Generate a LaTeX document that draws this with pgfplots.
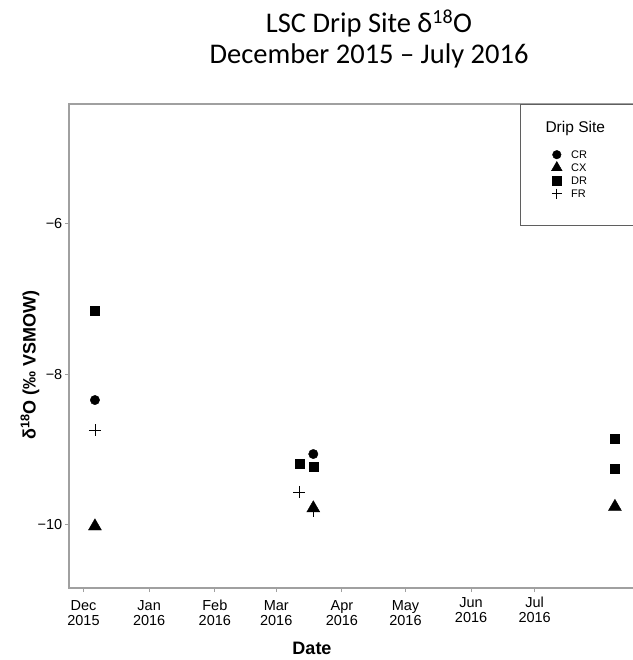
\documentclass[border=0pt]{standalone}
\usepackage{fontspec}
\setmainfont{Liberation Sans}
\newfontfamily\titlefont{Carlito}
\usepackage{pgfplots}
\pgfplotsset{compat=1.18}
\definecolor{axisgray}{RGB}{160,160,160}
\definecolor{boxgray}{RGB}{95,95,95}
% legend image: a single mark centred on the entry's origin
\pgfplotsset{dot legend/.style={legend image code/.code={\draw[##1] plot coordinates {(0pt,0pt)};}}}
% two-line month label with a fixed first-line height
\newcommand\mlab[2]{\rule{0pt}{14pt}#1\\#2}
\newcommand\mlabup[2]{\rule{0pt}{14pt}\raisebox{3pt}{#1}\\\raisebox{3pt}{#2}}

% x = days since 1 Dec 2015
\begin{document}
\begin{tikzpicture}
\begin{axis}[
  at={(0pt,0pt)}, anchor=south west,
  scale only axis, width=576pt, height=484pt,
  xmin=-6.846, xmax=265.1, ymin=-10.853, ymax=-4.4,
  axis line style={axisgray, line width=1.2pt},
  tick style={axisgray, line width=1pt},
  tick align=outside, major tick length=4pt,
  tick pos=left,
  xtick={0,31,62,91,122,152,183,213},
  xticklabels={{\mlab{Dec}{2015}},{\mlab{Jan}{2016}},{\mlab{Feb}{2016}},{\mlab{Mar}{2016}},
               {\mlab{Apr}{2016}},{\mlab{May}{2016}},{\mlabup{Jun}{2016}},{\mlabup{Jul}{2016}}},
  xticklabel style={align=center, anchor=north, inner sep=0pt, yshift=-4pt,
    font=\fontsize{14.5}{15.7}\selectfont},
  ytick={-10,-8,-6},
  yticklabels={−10,−8,−6},
  yticklabel style={anchor=east, inner sep=0pt, xshift=-2.5pt, font=\fontsize{14.5}{16}\selectfont},
  clip=false,
  legend cell align=left,
  legend style={at={(axis description cs:0.8372,0.9091)}, anchor=north west,
    draw=none, fill=none, inner sep=0pt, row sep=0pt, column sep=9pt,
    font=\fontsize{11}{12}\selectfont,
    nodes={inner sep=0pt, text height=10pt, text depth=3pt}},
]
% legend frame
\draw[boxgray, line width=0.8pt] (axis description cs:0.783,1) rectangle (axis description cs:1.2,0.75);
\node[anchor=base west, font=\fontsize{15.5}{17}\selectfont] at (axis description cs:0.8212,0.9401) {Drip Site};

% FR
\addplot[only marks, mark=+, mark size=6pt, mark options={black, line width=0.8pt}, forget plot]
  coordinates {(5.4,-8.747) (101.9,-9.573) (108.5,-9.83)};
% CR
\addplot[only marks, mark=*, mark size=4.7pt, mark options={black, fill=black}, forget plot]
  coordinates {(5.4,-8.347) (108.5,-9.067)};
% CX
\addplot[only marks, mark=triangle*, mark size=7.5pt, mark options={black, fill=black}, forget plot]
  coordinates {(5.4,-10.03) (108.5,-9.789) (250.9,-9.77)};
% DR
\addplot[only marks, mark=square*, mark size=4.5pt, mark options={black, fill=black}, forget plot]
  coordinates {(5.4,-7.156) (101.9,-9.2) (108.5,-9.236) (250.9,-8.857) (250.9,-9.257)};

\addlegendimage{only marks, mark=*, mark size=4.3pt, mark options={black, fill=black}, dot legend}
\addlegendentry{CR}
\addlegendimage{only marks, mark=triangle*, mark size=6.2pt, mark options={black, fill=black}, dot legend}
\addlegendentry{CX}
\addlegendimage{only marks, mark=square*, mark size=4.2pt, mark options={black, fill=black}, dot legend}
\addlegendentry{DR}
\addlegendimage{only marks, mark=+, mark size=5pt, mark options={black, line width=0.7pt}, dot legend}
\addlegendentry{FR}
\end{axis}

% axis titles
\node[anchor=base, font=\bfseries\fontsize{18}{20}\selectfont] at (243pt,-66pt) {Date};
\node[rotate=90, anchor=center, font=\bfseries\fontsize{18}{20}\selectfont] at (-39pt,223pt) {δ\textsuperscript{18}O (‰ VSMOW)};

% chart title
\node[anchor=base, font=\titlefont\fontsize{28.5}{30}\selectfont] at (300pt,555pt) {LSC Drip Site δ\textsuperscript{18}O};
\node[anchor=base, font=\titlefont\fontsize{28.5}{30}\selectfont] at (300pt,524pt) {December 2015 – July 2016};

\pgfresetboundingbox
\path (-69pt,-72pt) rectangle (563pt,588pt);
\end{tikzpicture}
\end{document}
